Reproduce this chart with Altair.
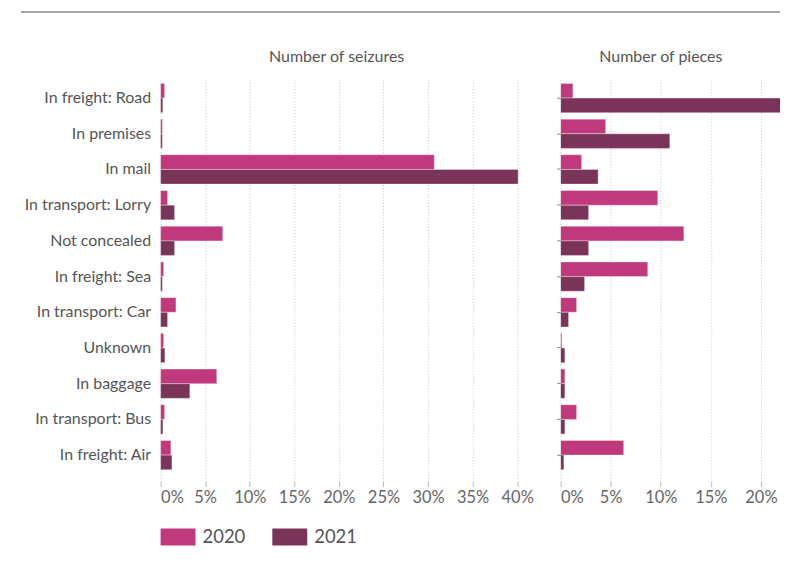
import altair as alt
import pandas as pd

categories = ["In freight: Road", "In premises", "In mail", "In transport: Lorry",
              "Not concealed", "In freight: Sea", "In transport: Car", "Unknown",
              "In baggage", "In transport: Bus", "In freight: Air"]
years = ["2020", "2021"]
seizures_2020 = [0.45, 0.2, 30.7, 0.78, 6.97, 0.34, 1.72, 0.34, 6.3, 0.45, 1.15]
seizures_2021 = [0.25, 0.2, 40.1, 1.57, 1.57, 0.2, 0.78, 0.48, 3.28, 0.26, 1.27]
pieces_2020 = [1.23, 4.5, 2.1, 9.7, 12.3, 8.7, 1.6, 0.13, 0.43, 1.6, 6.3]
pieces_2021 = [22.8, 10.9, 3.75, 2.8, 2.8, 2.4, 0.8, 0.43, 0.43, 0.43, 0.33]
left_ticks = [0, 5, 10, 15, 20, 25, 30, 35, 40]
right_ticks = [0, 5, 10, 15, 20]
colors = ["#C0397D", "#7B3459"]

def frame(v20, v21):
    rows = []
    for c, a, b in zip(categories, v20, v21):
        rows.append({"category": c, "year": "2020", "value": a})
        rows.append({"category": c, "year": "2021", "value": b})
    return pd.DataFrame(rows)

seiz = frame(seizures_2020, seizures_2021)
pcs = frame(pieces_2020, pieces_2021)

FONT = "Lato"
color = alt.Color("year:N", scale=alt.Scale(domain=years, range=colors),
                  legend=alt.Legend(title=None, orient="none", direction="horizontal",
                                    legendX=0, legendY=442,
                                    symbolType="M-1,-0.486H1V0.486H-1Z", symbolSize=1225,
                                    symbolStrokeWidth=0, symbolOpacity=1,
                                    labelFontSize=18.5, labelColor="#555", labelFont=FONT,
                                    labelOffset=7, columnPadding=27))

yscale = alt.Scale(domain=categories, paddingInner=0.18, paddingOuter=0.233, align=0.28)

def xaxis(vals):
    return alt.Axis(values=vals, labelExpr="datum.value + '%'", title=None,
                    grid=True, gridDash=[1, 2], gridColor="#c8c8c8", gridWidth=1,
                    domain=False, ticks=True, tickSize=5, tickColor="#bbbbbb",
                    labelFontSize=16.5, labelColor="#666", labelFont=FONT, labelPadding=3)

def top_title(text, tx):
    return alt.Axis(orient="top", title=text, titleX=tx, titleY=-17, titleBaseline="alphabetic",
                    titleFontSize=16, titleColor="#555", titleFont=FONT, titleFontWeight="normal",
                    labels=False, ticks=False, domain=False, grid=False)

# left panel
left_x = alt.Scale(domain=[0, 40.5], nice=False)
left_bars = alt.Chart(seiz).mark_bar(stroke="white", strokeWidth=1, strokeOpacity=0.35).encode(
    x=alt.X("value:Q", scale=left_x, axis=xaxis(left_ticks)),
    y=alt.Y("category:N", scale=yscale, sort=categories,
            axis=alt.Axis(title=None, ticks=False, domain=False, labelFontSize=16,
                          labelColor="#555", labelFont=FONT, labelPadding=10,
                          minExtent=140, maxExtent=140)),
    yOffset=alt.YOffset("year:N", sort=years),
    color=color,
)
left_title = alt.Chart(seiz).mark_point(opacity=0, clip=True).encode(
    x=alt.X("value:Q", scale=left_x, axis=top_title("Number of seizures", 176)),
)
top_line = alt.Chart(pd.DataFrame({"a": [0]})).mark_rule(color="#8a8a8a", strokeWidth=1.5).encode(
    x=alt.value(-140), x2=alt.value(621), y=alt.value(-67))

left = alt.layer(top_line, left_bars, left_title).resolve_axis(x="independent").properties(
    width=362, height=404)

# right panel
right_x = alt.Scale(domain=[0, 21.9], nice=False)
right_bars = alt.Chart(pcs).mark_bar(stroke="white", strokeWidth=1, strokeOpacity=0.35, clip=True).encode(
    x=alt.X("value:Q", scale=right_x, axis=xaxis(right_ticks)),
    y=alt.Y("category:N", scale=yscale, sort=categories,
            axis=alt.Axis(title=None, ticks=True, tickSize=4, tickColor="#888",
                          labels=False, domain=False, minExtent=5, maxExtent=5)),
    yOffset=alt.YOffset("year:N", sort=years),
    color=color,
)
right_title = alt.Chart(pcs).mark_point(opacity=0, clip=True).encode(
    x=alt.X("value:Q", scale=right_x, axis=top_title("Number of pieces", 100)),
)
right = alt.layer(right_bars, right_title).resolve_axis(x="independent").properties(
    width=220, height=404)

chart = alt.hconcat(left, right, spacing=39, bounds="flush").resolve_scale(y="independent").properties(
    padding={"left": 12, "top": 2.25, "right": 0, "bottom": 5}
).configure_view(stroke=None)

chart.save("out.html", embed_options={"renderer": "svg", "actions": False})
